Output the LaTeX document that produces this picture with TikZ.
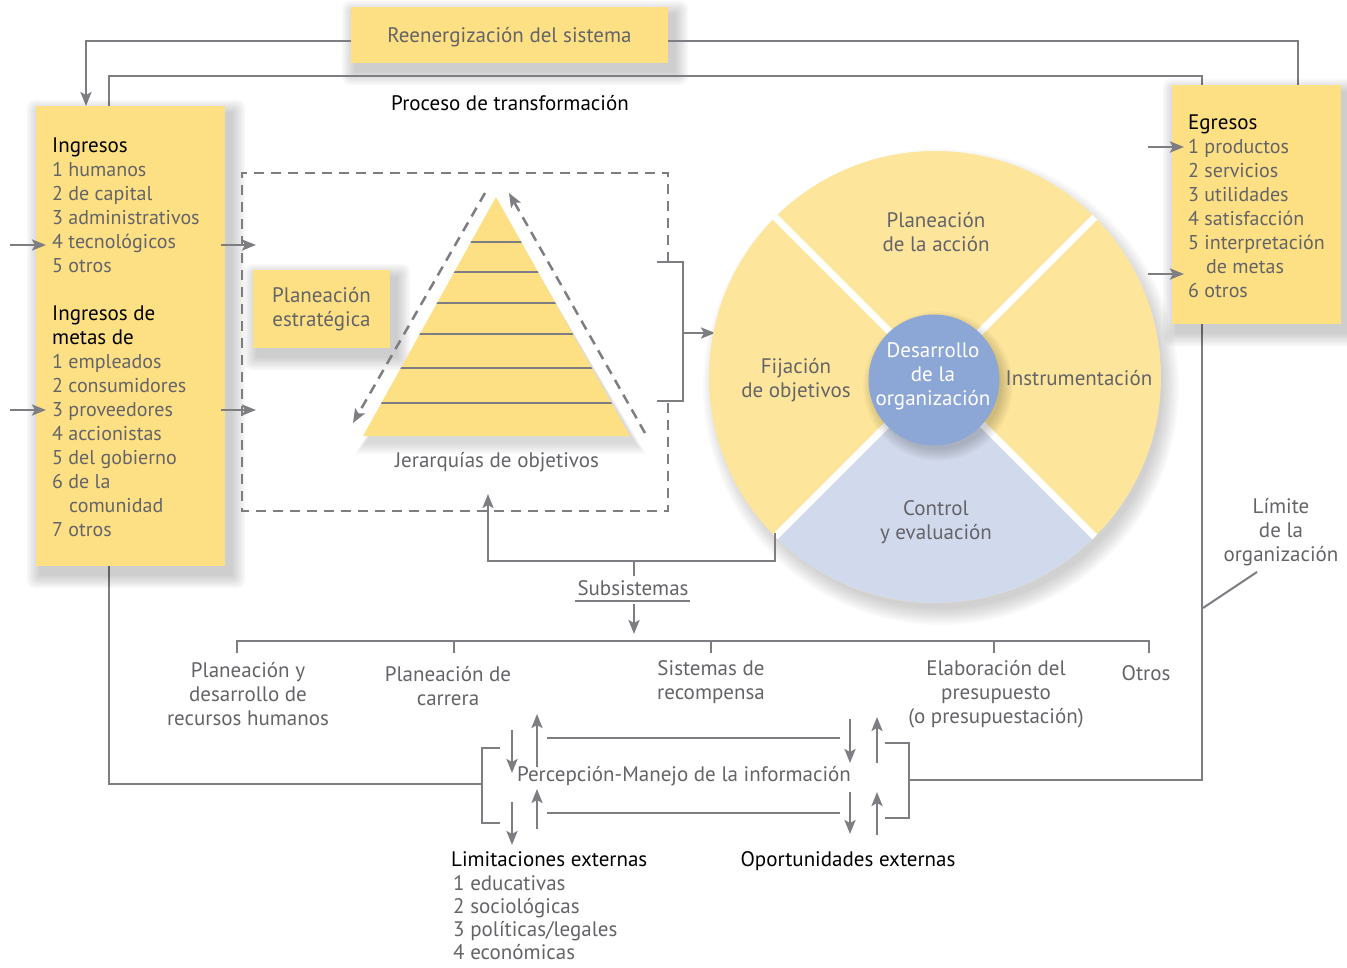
\documentclass[tikz,border=0pt]{standalone}
\usepackage{fontspec}
\setmainfont{PT Sans}
\usetikzlibrary{arrows.meta,calc}
\definecolor{boxy}{RGB}{253,224,132}
\definecolor{circy}{RGB}{253,230,155}
\definecolor{cblue}{RGB}{140,166,213}
\definecolor{lblue}{RGB}{209,217,236}
\definecolor{lg}{RGB}{125,125,130}
\definecolor{tg}{RGB}{100,100,104}
\newcommand\dfs{\fontsize{21}{24}\selectfont}
\newcommand\ifs{\fontsize{20}{24}\selectfont}
% soft shadow made of stacked translucent rectangles
\newcommand\sshadow[4]{%
  \foreach \k in {1,...,9}{%
    \fill[black, opacity=0.022, rounded corners=\k pt]
      ({#1+5-\k*1.6},{#2+8-\k*1.6}) rectangle ({#3+6+\k*1.6},{#4+8+\k*1.6});}}
\tikzset{
  ln/.style={draw=lg, line width=2.5pt},
  tip/.style={-{Stealth[length=14pt,width=11pt,inset=3pt]}},
  arr/.style={ln, tip},
  dsh/.style={ln, dash pattern=on 10pt off 7pt},
  ybox/.style={fill=boxy, draw=none, inner sep=0pt},
  gtxt/.style={text=tg, font=\dfs, inner sep=0pt, align=center},
  btxt/.style={text=black, font=\dfs, inner sep=0pt, align=center},
  item/.style={text=tg, font=\ifs, inner sep=0pt, anchor=base west},
  bitem/.style={text=tg, font=\dfs, inner sep=0pt, anchor=base west},
  head/.style={text=black, font=\dfs, inner sep=0pt, anchor=base west},
}
\begin{document}
\begin{tikzpicture}[x=1pt,y=-1pt]
\useasboundingbox (0,0) rectangle (1347,967);

% ---------- feedback loop ----------
\sshadow{351}{7}{668}{63}
\node[ybox, minimum width=317pt, minimum height=56pt] (reen) at (509.5,35) {};
\node[gtxt] at (509.5,37) {Reenergización del sistema};
\coordinate (reL) at (351,41);
\coordinate (reR) at (668,41);
\coordinate (egtop) at (1298,85);
\coordinate (ingtop) at (86,106);
\draw[ln] (egtop) |- (reR);
\draw[arr] (reL) -| (ingtop);

% organisation boundary
\coordinate (bl) at (109,784);
\coordinate (br) at (1202,780);
\coordinate (lbr) at (482,784);
\coordinate (rbr) at (909,780);
\draw[ln] (lbr) -- (bl) -- (109,76) -- (1202,76) -- (br) -- (rbr);
\node[btxt] (proc) at (510,103) {Proceso de transformación};

% ---------- Ingresos ----------
\coordinate (inA0) at (10,245);  \coordinate (inA1) at (46,245);
\coordinate (inB0) at (10,410);  \coordinate (inB1) at (46,410);
\coordinate (outA0) at (221,245); \coordinate (outA1) at (256,245);
\coordinate (outB0) at (221,410); \coordinate (outB1) at (256,410);
\sshadow{36}{106}{225}{566}
\node[ybox, minimum width=189pt, minimum height=460pt, anchor=north west] (ing) at (36,106) {};
\draw[arr] (inA0) -- (inA1);
\draw[arr] (inB0) -- (inB1);
\draw[arr] (outA0) -- (outA1);
\draw[arr] (outB0) -- (outB1);
\node[head] at (52,152) {Ingresos};
\foreach \y/\t in {176/1 humanos, 200/2 de capital, 224/3 administrativos, 248/4 tecnológicos, 272/5 otros}
  \node[item] at (52,\y) {\t};
\node[head] at (52,320) {Ingresos de};
\node[head] at (52,344) {metas de};
\foreach \y/\t in {368/1 empleados, 392/2 consumidores, 416/3 proveedores, 440/4 accionistas, 464/5 del gobierno, 488/6 de la, 536/7 otros}
  \node[item] at (52,\y) {\t};
\node[item] at (69,512) {comunidad};

% ---------- dashed frame ----------
\draw[dsh] (668,262) -- (668,173) -- (242,173) -- (242,511) -- (668,511) -- (668,401);
\sshadow{253}{270}{390}{348}
\node[ybox, minimum width=137pt, minimum height=78pt] (pe) at (321.5,309) {};
\node[gtxt] at (pe.center) {Planeación\\estratégica};

% pyramid
\coordinate (apex) at (496,197);
\coordinate (pbl) at (363,436);
\coordinate (pbr) at (630,436);
\foreach \k in {1,...,8}
  \fill[black, opacity=0.02] ($(apex)+(4,{6+\k})$) -- ($(pbr)+({4+\k*1.5},{6+\k*1.5})$) -- ($(pbl)+({4-\k*1.5},{6+\k*1.5})$) -- cycle;
\fill[boxy] (apex) -- (pbr) -- (pbl) -- cycle;
\begin{scope}
  \clip (apex) -- (pbr) -- (pbl) -- cycle;
  \foreach \y in {242,272,303,334,368,403}
    \draw[draw=lg, line width=1.6pt] (350,\y) -- (650,\y);
\end{scope}
\coordinate (dlA) at (485,193); \coordinate (dlB) at (353,423);
\coordinate (drA) at (645,433); \coordinate (drB) at (509,193);
\draw[dsh, tip] (dlA) -- (dlB);
\draw[dsh, tip] (drA) -- (drB);
\node[gtxt] (jer) at (497,462) {Jerarquías de objetivos};

% bracket to circle
\coordinate (brT) at (657,262); \coordinate (brB) at (657,401);
\coordinate (brM) at (683,333); \coordinate (brTip) at (715,333);
\draw[ln] (brT) -- (683,262) -- (683,401) -- (brB);
\draw[arr] (brM) -- (brTip);

% ---------- circle ----------
\coordinate (cc) at (935,377);
\foreach \k in {1,...,10}
  \fill[black, opacity=0.02] ($(cc)+(6,10)$) circle ({220+\k*1.8});
\fill[circy] (cc) circle (226);
\fill[lblue] (cc) -- ++(45:226) arc (45:135:226) -- cycle;
\begin{scope}
  \clip (cc) circle (226);
  \foreach \a in {45,135,225,315}
    \draw[white, line width=7pt] (cc) -- ++(\a:240);
\end{scope}
\foreach \k in {1,...,8}
  \fill[black, opacity=0.025] (938,386) circle ({62+\k*1.6});
\node[circle, fill=cblue, minimum size=131pt, inner sep=0pt] (dev) at (934,380) {};
\node[gtxt, text=white] at (933,376) {Desarrollo\\de la\\organización};
\node[gtxt] (pla) at (936,232) {Planeación\\de la acción};
\node[gtxt] (fij) at (796,380) {Fijación\\de objetivos};
\node[gtxt] (ins) at (1079,378) {Instrumentación};
\node[gtxt] (ctl) at (936,522) {Control\\y evaluación};

% feedback from circle to frame, and subsystems
\coordinate (cOut) at (775,533);
\coordinate (fIn) at (488,494);
\coordinate (junc) at (634,561);
\coordinate (subTop) at (634,576);
\draw[ln] (cOut) |- (junc);
\draw[arr] (junc) -| (fIn);
\draw[ln] (junc) -- (subTop);
\node[gtxt] (sub) at (633,588) {Subsistemas};
\draw[draw=lg, line width=1.3pt] (575,601) -- (690,601);
\coordinate (subBot) at (634,604);
\coordinate (subTip) at (634,634);
\draw[arr] (subBot) -- (subTip);

% subsystem bar
\draw[ln] (237,641) -- (1149,641);
\foreach \x in {237,454,711,994,1149}
  \draw[ln] (\x,640) -- (\x,653);
\node[gtxt] (s1) at (248,694) {Planeación y\\desarrollo de\\recursos humanos};
\node[gtxt] (s2) at (448,686) {Planeación de\\carrera};
\node[gtxt] (s3) at (711,682) {Sistemas de\\recompensa};
\node[gtxt] (s4) at (996,694) {Elaboración del\\presupuesto\\(o presupuestación)};
\node[gtxt] (s5) at (1146,673) {Otros};

% ---------- Egresos ----------
\sshadow{1172}{85}{1341}{324}
\node[ybox, minimum width=169pt, minimum height=239pt, anchor=north west] (egr) at (1172,85) {};
\coordinate (eA0) at (1148,147); \coordinate (eA1) at (1184,147);
\coordinate (eB0) at (1148,274); \coordinate (eB1) at (1184,274);
\draw[arr] (eA0) -- (eA1);
\draw[arr] (eB0) -- (eB1);
\node[head] at (1188,129) {Egresos};
\foreach \y/\t in {153/1 productos, 177/2 servicios, 201/3 utilidades, 225/4 satisfacción, 249/5 interpretación, 297/6 otros}
  \node[item] at (1188,\y) {\t};
\node[item] at (1206,273) {de metas};

% limit label
\node[gtxt] (lim) at (1281,532) {Límite\\de la\\organización};
\coordinate (limA) at (1257,572); \coordinate (limB) at (1203,608);
\draw[draw=lg, line width=2pt] (limA) -- (limB);

% ---------- Percepción ----------
\draw[ln] (500,748) -- (lbr |- 0,748) -- (lbr |- 0,823) -- (500,823);
\draw[ln] (885,743) -- (rbr |- 0,743) -- (rbr |- 0,818) -- (885,818);
\node[gtxt] (per) at (684,776) {Percepción-Manejo de la información};
\draw[arr] (512,730) -- (512,773);
\draw[arr] (512,802) -- (512,845);
\draw[arr] (537,767) -- (537,714);
\draw[arr] (537,829) -- (537,789);
\draw[arr] (850,719) -- (850,763);
\draw[arr] (850,792) -- (850,834);
\draw[arr] (877,763) -- (877,717);
\draw[arr] (877,835) -- (877,792);
\draw[ln] (547,738) -- (840,738);
\draw[ln] (547,813) -- (840,813);

\node[head] (lim1) at (451,866) {Limitaciones externas};
\foreach \y/\t in {890/{1 educativas}, 913/{2 sociológicas}, 936/{3 políticas/legales}, 959/{4 económicas}}
  \node[bitem] at (453,\y) {\t};
\node[btxt] (opo) at (848,861) {Oportunidades externas};
\end{tikzpicture}
\end{document}
